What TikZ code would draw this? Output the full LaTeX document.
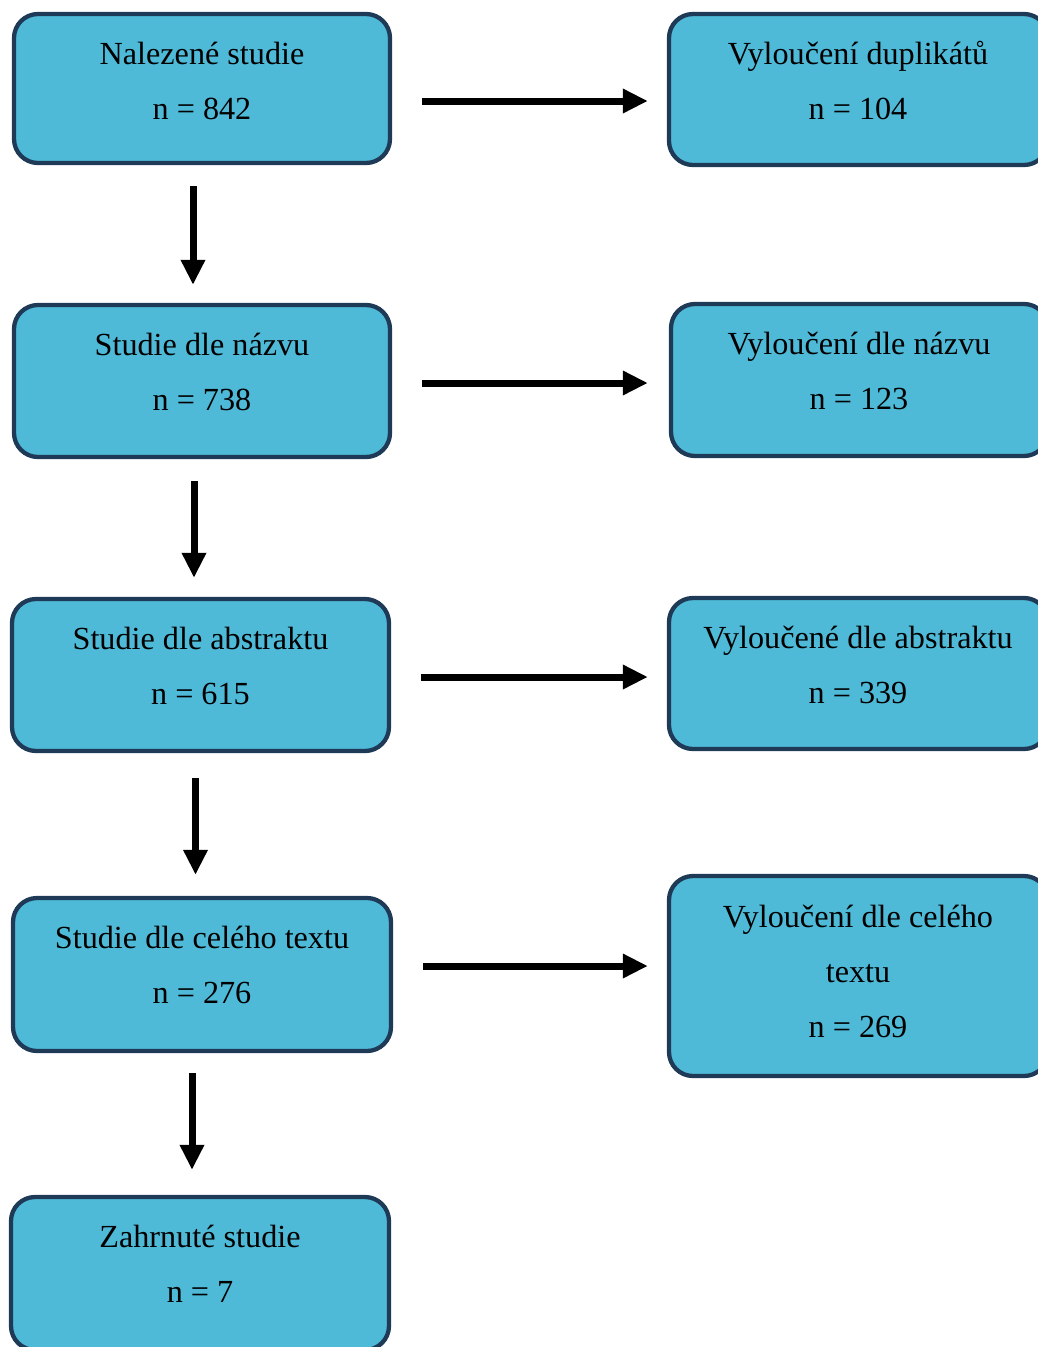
\documentclass[tikz,border=0pt]{standalone}
\usepackage{fontspec}
\setmainfont{Liberation Serif}
\usetikzlibrary{arrows.meta}
\definecolor{boxfill}{HTML}{4EBAD8}
\definecolor{boxline}{HTML}{1F3A57}
\begin{document}
\begin{tikzpicture}[x=1pt,y=-1pt,
  box/.style={draw=boxline, fill=boxfill, line width=4.3pt, rounded corners=24pt, inner sep=0pt},
  lbl/.style={anchor=base, inner sep=0pt, text=black, font=\fontsize{32.2}{55}\selectfont},
  arr/.style={line width=7pt, -{Triangle[length=25pt,width=23pt]}}]
\useasboundingbox (0,0) rectangle (1038,1347);
\clip (0,0) rectangle (1038,1347);
% left column boxes
\node[box, minimum width=376pt, minimum height=149pt] (L1) at (202,88.5) {};
\node[box, minimum width=376pt, minimum height=152pt] (L2) at (202,381) {};
\node[box, minimum width=377pt, minimum height=152pt] (L3) at (200.5,675) {};
\node[box, minimum width=378pt, minimum height=153pt] (L4) at (202,974.5) {};
\node[box, minimum width=378pt, minimum height=153pt] (L5) at (200,1273.5) {};
% right column boxes
\node[box, minimum width=379pt, minimum height=151pt] (R1) at (858.5,89.5) {};
\node[box, minimum width=377pt, minimum height=152pt] (R2) at (859.5,380) {};
\node[box, minimum width=379pt, minimum height=151pt] (R3) at (858.5,673.5) {};
\node[box, minimum width=379pt, minimum height=200pt] (R4) at (858.5,976) {};
% texts
\node[lbl] (tL1) at (202,64) {\begin{tabular}[t]{@{}c@{}}Nalezené studie\\ n = 842\end{tabular}};
\node[lbl] (tL2) at (202,355) {\begin{tabular}[t]{@{}c@{}}Studie dle názvu\\ n = 738\end{tabular}};
\node[lbl] (tL3) at (200.5,649) {\begin{tabular}[t]{@{}c@{}}Studie dle abstraktu\\ n = 615\end{tabular}};
\node[lbl] (tL4) at (202,948) {\begin{tabular}[t]{@{}c@{}}Studie dle celého textu\\ n = 276\end{tabular}};
\node[lbl] (tL5) at (200,1247) {\begin{tabular}[t]{@{}c@{}}Zahrnuté studie\\ n = 7\end{tabular}};
\node[lbl] (tR1) at (858,64) {\begin{tabular}[t]{@{}c@{}}Vyloučení duplikátů\\ n = 104\end{tabular}};
\node[lbl] (tR2) at (859,354) {\begin{tabular}[t]{@{}c@{}}Vyloučení dle názvu\\ n = 123\end{tabular}};
\node[lbl] (tR3) at (858,648) {\begin{tabular}[t]{@{}c@{}}Vyloučené dle abstraktu\\ n = 339\end{tabular}};
\node[lbl] (tR4) at (858,927) {\begin{tabular}[t]{@{}c@{}}Vyloučení dle celého\\ textu\\ n = 269\end{tabular}};
% horizontal arrows
\draw[arr, shorten <=30pt, shorten >=19pt] ([yshift=-12.5pt]L1.east) -- ([yshift=-12.5pt]L1.east -| R1.west);
\draw[arr, shorten <=30pt, shorten >=21pt] ([yshift=-2pt]L2.east) -- ([yshift=-2pt]L2.east -| R2.west);
\draw[arr, shorten <=30pt, shorten >=19pt] ([yshift=-2pt]L3.east) -- ([yshift=-2pt]L3.east -| R3.west);
\draw[arr, shorten <=30pt, shorten >=19pt] ([yshift=8.5pt]L4.east) -- ([yshift=8.5pt]L4.east -| R4.west);
% vertical arrows
\draw[arr, shorten <=21pt, shorten >=18pt] ([xshift=-9pt]L1.south) -- ([xshift=-9pt]L1.south |- L2.north);
\draw[arr, shorten <=22pt, shorten >=19pt] ([xshift=-8pt]L2.south) -- ([xshift=-8pt]L2.south |- L3.north);
\draw[arr, shorten <=25pt, shorten >=21pt] ([xshift=-5pt]L3.south) -- ([xshift=-5pt]L3.south |- L4.north);
\draw[arr, shorten <=20pt, shorten >=25pt] ([xshift=-10pt]L4.south) -- ([xshift=-10pt]L4.south |- L5.north);
\end{tikzpicture}
\end{document}
